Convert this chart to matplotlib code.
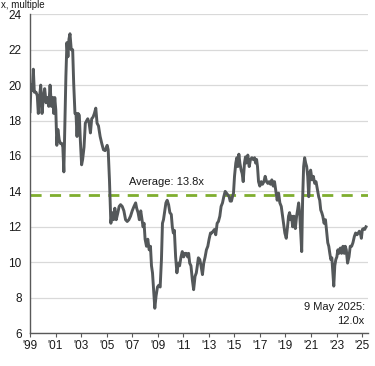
import matplotlib
matplotlib.use("Agg")
import matplotlib.pyplot as plt

plt.rcParams['font.family'] = ['Liberation Sans', 'DejaVu Sans']

years = [1999.00, 1999.08, 1999.18, 1999.26, 1999.34, 1999.47, 1999.57, 1999.65, 1999.73, 1999.84,
         1999.94, 2000.05, 2000.15, 2000.26, 2000.36, 2000.47, 2000.57, 2000.68, 2000.78, 2000.86,
         2000.94, 2001.02, 2001.10, 2001.18, 2001.29, 2001.39, 2001.50, 2001.57, 2001.65, 2001.73,
         2001.81, 2001.89, 2001.97, 2002.05, 2002.13, 2002.23, 2002.34, 2002.42, 2002.52, 2002.60,
         2002.68, 2002.76, 2002.86, 2002.94, 2003.04, 2003.12, 2003.23, 2003.33, 2003.44, 2003.52,
         2003.62, 2003.73, 2003.83, 2003.94, 2004.04, 2004.15, 2004.25, 2004.36, 2004.49, 2004.62,
         2004.75, 2004.88, 2004.96, 2005.04, 2005.12, 2005.22, 2005.33, 2005.43, 2005.54, 2005.64,
         2005.75, 2005.88, 2005.98, 2006.09, 2006.22, 2006.35, 2006.48, 2006.61, 2006.74, 2006.87,
         2007.00, 2007.14, 2007.27, 2007.35, 2007.46, 2007.56, 2007.67, 2007.77, 2007.85, 2007.93,
         2008.01, 2008.12, 2008.22, 2008.33, 2008.43, 2008.51, 2008.59, 2008.69, 2008.77, 2008.87,
         2008.98, 2009.08, 2009.19, 2009.29, 2009.37, 2009.45, 2009.53, 2009.64, 2009.74, 2009.85,
         2009.95, 2010.06, 2010.14, 2010.22, 2010.30, 2010.40, 2010.50, 2010.61, 2010.71, 2010.82,
         2010.92, 2011.03, 2011.13, 2011.24, 2011.34, 2011.42, 2011.50, 2011.60, 2011.71, 2011.81,
         2011.92, 2012.02, 2012.10, 2012.18, 2012.29, 2012.39, 2012.50, 2012.60, 2012.71, 2012.81,
         2012.92, 2013.02, 2013.13, 2013.23, 2013.33, 2013.44, 2013.54, 2013.65, 2013.75, 2013.86,
         2013.96, 2014.07, 2014.17, 2014.28, 2014.38, 2014.48, 2014.59, 2014.67, 2014.77, 2014.85,
         2014.93, 2015.01, 2015.11, 2015.19, 2015.27, 2015.35, 2015.43, 2015.53, 2015.61, 2015.69,
         2015.79, 2015.87, 2015.95, 2016.05, 2016.16, 2016.26, 2016.37, 2016.47, 2016.58, 2016.66,
         2016.74, 2016.81, 2016.89, 2016.99, 2017.10, 2017.20, 2017.31, 2017.41, 2017.52, 2017.62,
         2017.72, 2017.83, 2017.93, 2018.04, 2018.14, 2018.25, 2018.35, 2018.46, 2018.56, 2018.67,
         2018.77, 2018.85, 2018.95, 2019.06, 2019.16, 2019.24, 2019.32, 2019.40, 2019.48, 2019.56,
         2019.66, 2019.77, 2019.87, 2019.95, 2020.03, 2020.11, 2020.19, 2020.27, 2020.34, 2020.42,
         2020.50, 2020.58, 2020.66, 2020.74, 2020.82, 2020.90, 2020.97, 2021.08, 2021.18, 2021.29,
         2021.39, 2021.50, 2021.60, 2021.68, 2021.76, 2021.84, 2021.92, 2022.02, 2022.13, 2022.23,
         2022.31, 2022.39, 2022.47, 2022.55, 2022.63, 2022.71, 2022.78, 2022.86, 2022.94, 2023.02,
         2023.10, 2023.18, 2023.29, 2023.39, 2023.50, 2023.60, 2023.68, 2023.76, 2023.86, 2023.97,
         2024.07, 2024.18, 2024.28, 2024.39, 2024.49, 2024.60, 2024.70, 2024.78, 2024.86, 2024.94,
         2025.02, 2025.12, 2025.20, 2025.30]

values = [18.5, 20.0, 19.7, 20.9, 19.6, 19.6, 19.4, 18.4, 19.2, 20.0,
          18.4, 19.35, 19.8, 19.0, 19.3, 18.8, 20.0, 18.8, 19.3, 18.4,
          19.3, 18.6, 16.6, 17.5, 16.9, 16.7, 16.7, 16.5, 15.1, 17.7,
          20.5, 22.4, 21.6, 22.6, 22.9, 22.0, 22.0, 20.1, 18.4, 18.4,
          17.1, 18.4, 18.3, 16.9, 15.5, 15.8, 16.5, 17.85, 18.0, 18.1,
          17.9, 17.3, 18.1, 18.2, 18.4, 18.7, 17.85, 17.7, 17.1, 16.7,
          16.35, 16.3, 16.45, 16.6, 16.35, 14.65, 12.2, 12.8, 12.4, 13.05,
          12.4, 12.8, 13.15, 13.25, 13.15, 12.9, 12.4, 12.3, 12.4, 12.6,
          12.9, 13.15, 13.35, 13.05, 12.8, 12.4, 12.9, 12.4, 12.0, 12.2,
          11.3, 10.9, 11.3, 10.7, 10.9, 9.8, 9.4, 8.3, 7.4, 8.1,
          8.6, 8.7, 8.6, 10.15, 12.2, 12.4, 12.8, 13.35, 13.5, 13.25,
          12.8, 12.7, 12.0, 11.65, 11.8, 10.3, 9.4, 9.95, 9.8, 10.3,
          10.6, 10.3, 10.5, 10.5, 10.3, 10.5, 9.95, 9.8, 9.0, 8.45,
          9.2, 9.4, 9.8, 10.25, 10.15, 9.8, 9.3, 9.95, 10.3, 10.7,
          10.9, 11.3, 11.65, 11.65, 11.75, 11.85, 11.55, 12.2, 12.3, 12.6,
          13.15, 13.35, 13.7, 14.0, 13.9, 13.8, 13.7, 13.45, 13.45, 13.7,
          13.9, 14.85, 15.6, 15.9, 15.4, 16.1, 15.6, 15.2, 15.0, 14.55,
          15.6, 15.95, 15.6, 16.05, 15.4, 15.8, 15.9, 15.8, 15.9, 15.6,
          15.8, 15.4, 14.55, 14.3, 14.55, 14.4, 14.55, 14.85, 14.55, 14.45,
          14.55, 14.4, 14.65, 14.3, 14.55, 14.0, 13.5, 13.9, 13.35, 13.15,
          12.6, 12.2, 11.65, 11.35, 12.0, 12.6, 12.8, 12.4, 12.6, 12.0,
          12.6, 11.9, 12.6, 12.95, 13.35, 12.8, 11.65, 10.6, 13.5, 15.4,
          15.9, 15.6, 15.4, 14.85, 13.7, 15.05, 15.2, 14.65, 14.85, 14.45,
          14.55, 14.1, 13.7, 13.5, 12.95, 12.8, 12.6, 12.2, 12.4, 11.65,
          11.1, 10.9, 10.5, 10.15, 10.25, 9.4, 8.65, 9.8, 10.15, 10.3,
          10.7, 10.5, 10.8, 10.5, 10.9, 10.5, 10.9, 10.7, 9.95, 10.3,
          10.9, 10.9, 11.1, 11.45, 11.65, 11.55, 11.65, 11.75, 11.65, 11.35,
          11.85, 11.9, 11.85, 12.0]

average = 13.8
x_ticks = list(range(1999, 2026, 2))
x_labels = ["'99", "'01", "'03", "'05", "'07", "'09", "'11", "'13", "'15", "'17", "'19", "'21", "'23", "'25"]
y_ticks = [6, 8, 10, 12, 14, 16, 18, 20, 22, 24]

fig = plt.figure(figsize=(3.75, 3.66), dpi=100)
ax = fig.add_axes([0.08, 0.090, 0.901, 0.871])

ax.plot(years, values, color='#54585A', lw=2.1, zorder=3, solid_joinstyle='round')
ax.axhline(average, color='#7FAE2E', lw=2.0, ls=(0, (4, 3)), zorder=2)

ax.set_xlim(1999, 2025.45)
ax.set_ylim(6, 24)
ax.set_xticks(x_ticks)
ax.set_xticklabels(x_labels)
ax.set_yticks(y_ticks)
ax.grid(axis='y', color='#D9D9D9', lw=0.9)
ax.set_axisbelow(True)
for s in ['top', 'right']:
    ax.spines[s].set_visible(False)
ax.spines['left'].set_color('#595959')
ax.spines['bottom'].set_color('#595959')
ax.spines['left'].set_linewidth(1.0)
ax.spines['bottom'].set_linewidth(1.0)
ax.tick_params(axis='x', length=3, width=0.8, color='#595959', labelsize=8.5, pad=2, labelcolor='#1a1a1a')
ax.tick_params(axis='y', length=0, labelsize=8.5, pad=6, labelcolor='#1a1a1a')

ax.text(2009.65, 14.55, 'Average: 13.8x', ha='center', va='center', fontsize=8, color='#1a1a1a')
ax.text(2025.2, 7.45, '9 May 2025:', ha='right', va='center', fontsize=8, color='#1a1a1a')
ax.text(2025.2, 6.7, '12.0x', ha='right', va='center', fontsize=8, color='#1a1a1a')

fig.text(0.003, 0.999, 'x, multiple', ha='left', va='top', fontsize=7, color='#1a1a1a')

fig.savefig('out.png', dpi=100)
